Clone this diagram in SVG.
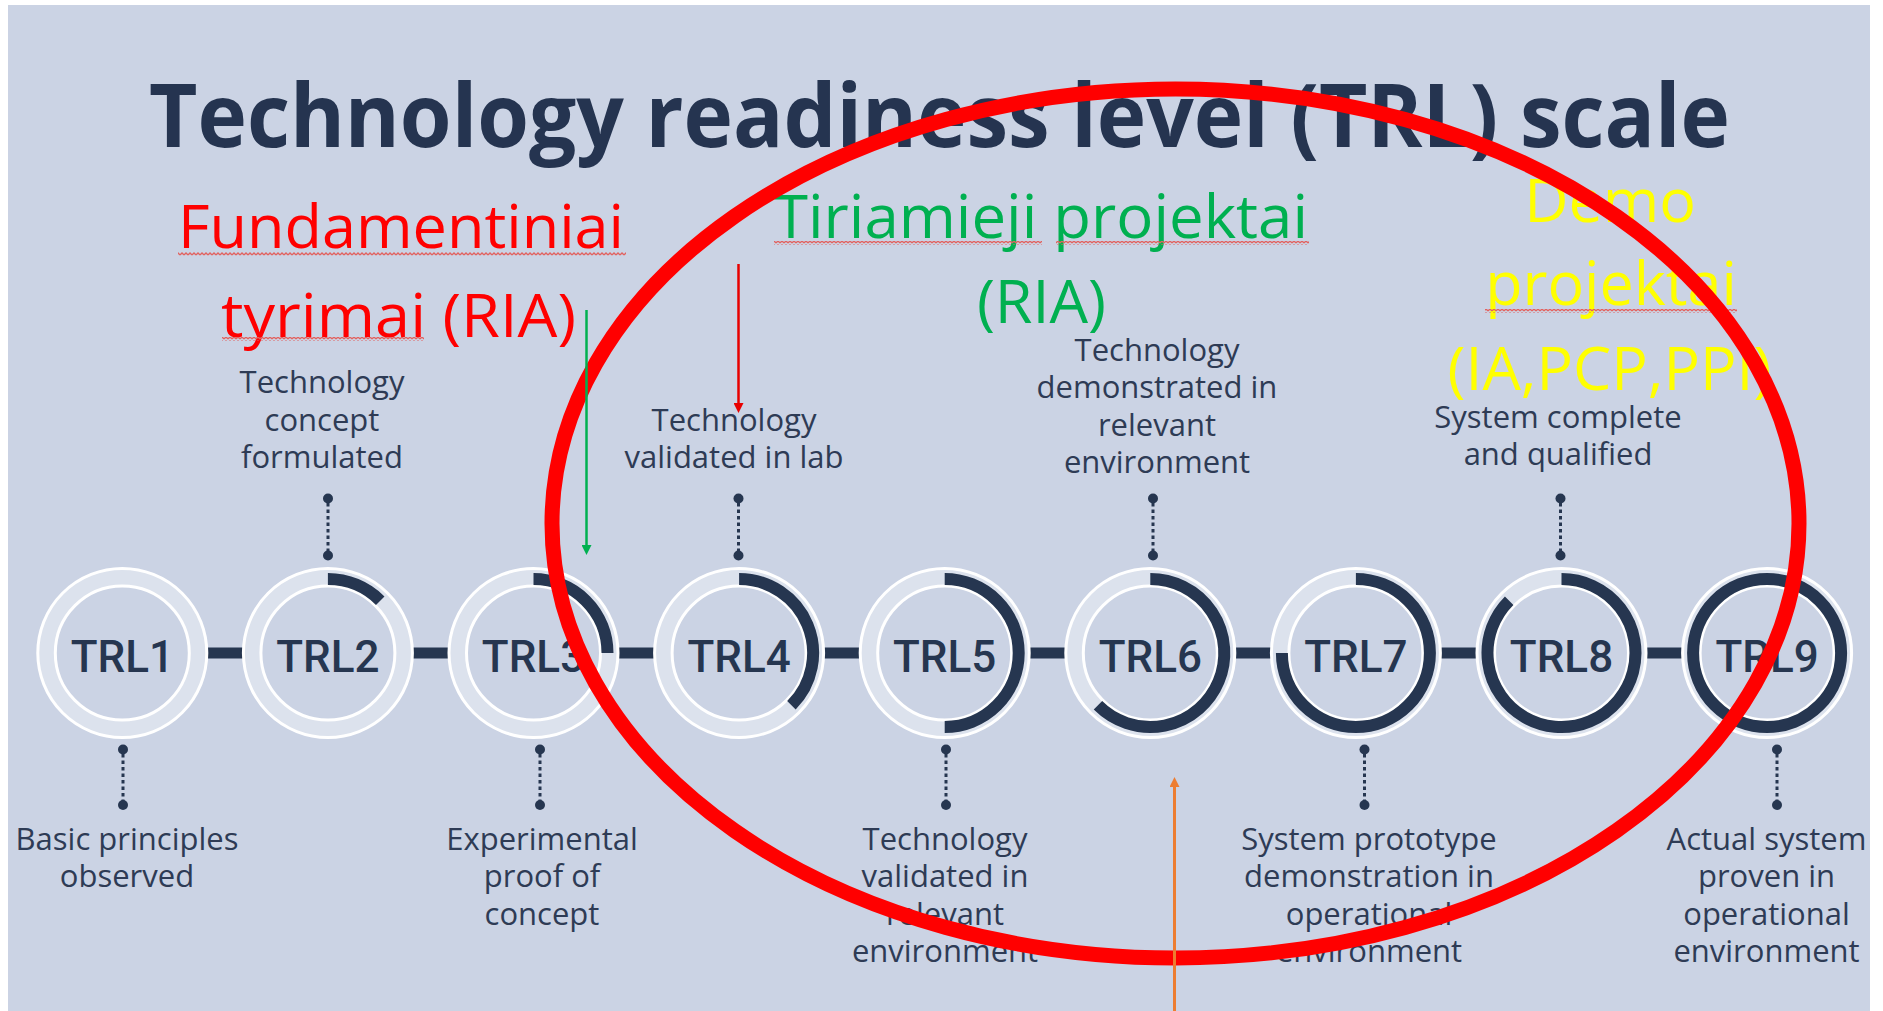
<svg xmlns="http://www.w3.org/2000/svg" width="1883" height="1011" viewBox="0 0 1883 1011">
  <defs>
    <style>
      .panel { fill: #cbd3e4; }
      .title { font-family: "Open Sans", "Liberation Sans", sans-serif; font-weight: 700; font-size: 87px; fill: #253450; }
      .ring-out { fill: #dce2ed; stroke: #ffffff; stroke-width: 3; }
      .ring-in { fill: #cbd3e4; stroke: #ffffff; stroke-width: 3; }
      .arc { fill: none; stroke: #263650; stroke-width: 12; }
      .trl { font-family: Roboto, "Liberation Sans", sans-serif; font-weight: 500; font-size: 44px; fill: #263650; text-anchor: middle; }
      .lbl { font-family: "Open Sans", "Liberation Sans", sans-serif; font-size: 31px; fill: #2e3b55; text-anchor: middle; }
      .note { font-family: "Open Sans", "Liberation Sans", sans-serif; font-size: 61px; }
      .red { fill: #ff0000; }
      .green { fill: #00b050; }
      .yellow { fill: #ffff00; }
      .bar { fill: #263650; }
      .dot { fill: #263650; }
      .dash { stroke: #263650; stroke-width: 3; stroke-dasharray: 3.5 3; fill: none; }
      .squiggle { fill: url(#squiggle); }
    </style>
    <pattern id="squiggle" width="4" height="4" patternUnits="userSpaceOnUse">
      <path d="M0,3 L2,1 L4,3" fill="none" stroke="#e2625f" stroke-width="1.3"/>
    </pattern>
    <marker id="head-green" viewBox="0 0 10 10" refX="2" refY="5" markerUnits="userSpaceOnUse" markerWidth="10" markerHeight="10" orient="auto">
      <path d="M0,0 L10,5 L0,10 z" fill="#00b050"/>
    </marker>
    <marker id="head-red" viewBox="0 0 10 10" refX="2" refY="5" markerUnits="userSpaceOnUse" markerWidth="10" markerHeight="10" orient="auto">
      <path d="M0,0 L10,5 L0,10 z" fill="#e80000"/>
    </marker>
    <marker id="head-orange" viewBox="0 0 10 10" refX="2" refY="5" markerUnits="userSpaceOnUse" markerWidth="10" markerHeight="10" orient="auto">
      <path d="M0,0 L10,5 L0,10 z" fill="#ed7d31"/>
    </marker>
  </defs>

  <!-- page and slide panel -->
  <rect x="0" y="0" width="1883" height="1011" fill="#ffffff"/>
  <rect class="panel" x="8" y="5" width="1862" height="1006"/>

  <!-- heading -->
  <text class="title" x="149" y="147" textLength="1581" lengthAdjust="spacingAndGlyphs">Technology readiness level (TRL) scale</text>

  <!-- project type annotations -->
  <g id="note-fundamental">
    <text class="note red" x="178" y="248" textLength="446" lengthAdjust="spacingAndGlyphs">Fundamentiniai</text>
    <text class="note red" x="221" y="336.5" textLength="355" lengthAdjust="spacingAndGlyphs">tyrimai (RIA)</text>
    <rect class="squiggle" x="178" y="252" width="448" height="4"/>
    <rect class="squiggle" x="222" y="337" width="202" height="4"/>
  </g>
  <g id="note-research">
    <text class="note green" x="774" y="237.5" textLength="534" lengthAdjust="spacingAndGlyphs">Tiriamieji projektai</text>
    <text class="note green" x="1041.5" y="322.5" text-anchor="middle">(RIA)</text>
    <rect class="squiggle" x="774" y="241" width="268" height="4"/>
    <rect class="squiggle" x="1056" y="241" width="253" height="4"/>
  </g>
  <g id="note-demo">
    <text class="note yellow" x="1610" y="221.5" text-anchor="middle">Demo</text>
    <text class="note yellow" x="1611" y="305" text-anchor="middle">projektai</text>
    <text class="note yellow" x="1609.5" y="390" text-anchor="middle" textLength="324" lengthAdjust="spacingAndGlyphs">(IA,PCP,PPI)</text>
    <rect class="squiggle" x="1485" y="309" width="252" height="4"/>
  </g>

  <!-- connectors: timeline bar and dotted leaders -->
  <g id="connectors">
    <rect class="bar" x="122" y="647.5" width="1645" height="11"/>
    <!-- leaders above even levels -->
    <g>
      <line class="dash" x1="328" y1="503" x2="328" y2="551"/>
      <circle class="dot" cx="328" cy="498.5" r="5"/><circle class="dot" cx="328" cy="555.5" r="5"/>
      <line class="dash" x1="738.5" y1="503" x2="738.5" y2="551"/>
      <circle class="dot" cx="738.5" cy="498.5" r="5"/><circle class="dot" cx="738.5" cy="555.5" r="5"/>
      <line class="dash" x1="1153" y1="503" x2="1153" y2="551"/>
      <circle class="dot" cx="1153" cy="498.5" r="5"/><circle class="dot" cx="1153" cy="555.5" r="5"/>
      <line class="dash" x1="1560.5" y1="503" x2="1560.5" y2="551"/>
      <circle class="dot" cx="1560.5" cy="498.5" r="5"/><circle class="dot" cx="1560.5" cy="555.5" r="5"/>
    </g>
    <!-- leaders below odd levels -->
    <g>
      <line class="dash" x1="123" y1="754" x2="123" y2="801"/>
      <circle class="dot" cx="123" cy="749.5" r="5"/><circle class="dot" cx="123" cy="805" r="5"/>
      <line class="dash" x1="540" y1="754" x2="540" y2="801"/>
      <circle class="dot" cx="540" cy="749.5" r="5"/><circle class="dot" cx="540" cy="805" r="5"/>
      <line class="dash" x1="946" y1="754" x2="946" y2="801"/>
      <circle class="dot" cx="946" cy="749.5" r="5"/><circle class="dot" cx="946" cy="805" r="5"/>
      <line class="dash" x1="1364.5" y1="754" x2="1364.5" y2="801"/>
      <circle class="dot" cx="1364.5" cy="749.5" r="5"/><circle class="dot" cx="1364.5" cy="805" r="5"/>
      <line class="dash" x1="1777" y1="754" x2="1777" y2="801"/>
      <circle class="dot" cx="1777" cy="749.5" r="5"/><circle class="dot" cx="1777" cy="805" r="5"/>
    </g>
  </g>

  <!-- TRL nodes: ring, progress arc, label and description -->
  <g id="trl1">
    <g transform="translate(122.3,653)">
      <circle class="ring-out" r="84.5"/><circle class="ring-in" r="67"/>
      <text class="trl" y="19">TRL1</text>
    </g>
    <text class="lbl" x="127" y="850">Basic principles<tspan x="127" y="887">observed</tspan></text>
  </g>
  <g id="trl2">
    <g transform="translate(327.9,653)">
      <circle class="ring-out" r="84.5"/><circle class="ring-in" r="67"/>
      <path class="arc" d="M0,-74 A74,74 0 0 1 52.33,-52.33"/>
      <text class="trl" y="19">TRL2</text>
    </g>
    <text class="lbl" x="322" y="393">Technology<tspan x="322" y="430.5">concept</tspan><tspan x="322" y="468">formulated</tspan></text>
  </g>
  <g id="trl3">
    <g transform="translate(533.5,653)">
      <circle class="ring-out" r="84.5"/><circle class="ring-in" r="67"/>
      <path class="arc" d="M0,-74 A74,74 0 0 1 74,0"/>
      <text class="trl" y="19">TRL3</text>
    </g>
    <text class="lbl" x="542" y="850">Experimental<tspan x="542" y="887">proof of</tspan><tspan x="542" y="924.5">concept</tspan></text>
  </g>
  <g id="trl4">
    <g transform="translate(739.1,653)">
      <circle class="ring-out" r="84.5"/><circle class="ring-in" r="67"/>
      <path class="arc" d="M0,-74 A74,74 0 0 1 52.33,52.33"/>
      <text class="trl" y="19">TRL4</text>
    </g>
    <text class="lbl" x="734" y="431">Technology<tspan x="734" y="468">validated in lab</tspan></text>
  </g>
  <g id="trl5">
    <g transform="translate(944.7,653)">
      <circle class="ring-out" r="84.5"/><circle class="ring-in" r="67"/>
      <path class="arc" d="M0,-74 A74,74 0 0 1 0,74"/>
      <text class="trl" y="19">TRL5</text>
    </g>
    <text class="lbl" x="945" y="850">Technology<tspan x="945" y="887">validated in</tspan><tspan x="945" y="924.5">relevant</tspan><tspan x="945" y="961.7">environment</tspan></text>
  </g>
  <g id="trl6">
    <g transform="translate(1150.3,653)">
      <circle class="ring-out" r="84.5"/><circle class="ring-in" r="67"/>
      <path class="arc" d="M0,-74 A74,74 0 1 1 -52.33,52.33"/>
      <text class="trl" y="19">TRL6</text>
    </g>
    <text class="lbl" x="1157" y="360.5">Technology<tspan x="1157" y="398">demonstrated in</tspan><tspan x="1157" y="435.5">relevant</tspan><tspan x="1157" y="473">environment</tspan></text>
  </g>
  <g id="trl7">
    <g transform="translate(1355.9,653)">
      <circle class="ring-out" r="84.5"/><circle class="ring-in" r="67"/>
      <path class="arc" d="M0,-74 A74,74 0 1 1 -74,0"/>
      <text class="trl" y="19">TRL7</text>
    </g>
    <text class="lbl" x="1369" y="850">System prototype<tspan x="1369" y="887">demonstration in</tspan><tspan x="1369" y="924.5">operational</tspan><tspan x="1369" y="961.7">environment</tspan></text>
  </g>
  <g id="trl8">
    <g transform="translate(1561.5,653)">
      <circle class="ring-out" r="84.5"/><circle class="ring-in" r="67"/>
      <path class="arc" d="M0,-74 A74,74 0 1 1 -52.33,-52.33"/>
      <text class="trl" y="19">TRL8</text>
    </g>
    <text class="lbl" x="1558" y="428">System complete<tspan x="1558" y="465">and qualified</tspan></text>
  </g>
  <g id="trl9">
    <g transform="translate(1767.1,653)">
      <circle class="ring-out" r="84.5"/><circle class="ring-in" r="67"/>
      <circle class="arc" r="74"/>
      <text class="trl" y="19">TRL9</text>
    </g>
    <text class="lbl" x="1766.5" y="850">Actual system<tspan x="1766.5" y="887">proven in</tspan><tspan x="1766.5" y="924.5">operational</tspan><tspan x="1766.5" y="961.7">environment</tspan></text>
  </g>

  <!-- highlight ellipse -->
  <ellipse id="highlight" cx="1175.5" cy="523.5" rx="623.5" ry="434.5" fill="none" stroke="#ff0000" stroke-width="15"/>

  <!-- pointer arrows -->
  <g id="arrows">
    <line x1="586.5" y1="310" x2="586.5" y2="547" stroke="#00b050" stroke-width="2.5" marker-end="url(#head-green)"/>
    <line x1="738.5" y1="264" x2="738.5" y2="405" stroke="#e80000" stroke-width="2.5" marker-end="url(#head-red)"/>
    <line x1="1174.5" y1="1011" x2="1174.5" y2="785" stroke="#ed7d31" stroke-width="3" marker-end="url(#head-orange)"/>
  </g>
</svg>
